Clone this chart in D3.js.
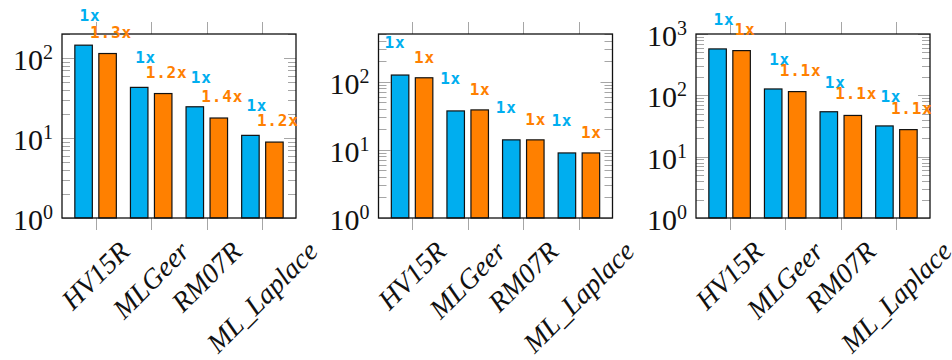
<!DOCTYPE html>
<html>
<head>
<meta charset="utf-8">
<script src="https://cdn.jsdelivr.net/npm/d3@7"></script>
<style>
  html, body { margin: 0; padding: 0; background: #fff; }
  svg { display: block; }
  .serif { font-family: "Liberation Serif", "DejaVu Serif", serif; }
  .mono { font-family: "DejaVu Sans Mono", "Liberation Mono", monospace; font-weight: bold; }
</style>
</head>
<body>
<svg id="chart" width="952" height="360"></svg>
<script>
// ---------------- data ----------------
const categories = ["HV15R", "MLGeer", "RM07R", "ML_Laplace"];

const panel1Blue   = [145, 43, 24.6, 10.8];
const panel1Orange = [114, 36, 17.8, 8.9];
const panel1BlueLabels   = ["1x", "1x", "1x", "1x"];
const panel1OrangeLabels = ["1.3x", "1.2x", "1.4x", "1.2x"];

const panel2Blue   = [125, 37.2, 14.0, 9.0];
const panel2Orange = [114, 38.5, 14.0, 9.0];
const panel2BlueLabels   = ["1x", "1x", "1x", "1x"];
const panel2OrangeLabels = ["1x", "1x", "1x", "1x"];

const panel3Blue   = [571, 127, 54, 31.7];
const panel3Orange = [536, 115, 47, 27.6];
const panel3BlueLabels   = ["1x", "1x", "1x", "1x"];
const panel3OrangeLabels = ["1x", "1.1x", "1.1x", "1.1x"];

const panel1YMax = 200;
const panel2YMax = 500;
const panel3YMax = 1000;

const panel1YTicks = [1, 10, 100];
const panel2YTicks = [1, 10, 100];
const panel3YTicks = [1, 10, 100, 1000];

// ---------------- layout / style ----------------
const BLUE = "#00aeef";
const ORANGE = "#ff8000";
const TICK = "#a6a6a6";

const panels = [
  { x0: 62,    blue: panel1Blue, orange: panel1Orange, bl: panel1BlueLabels, ol: panel1OrangeLabels, ymax: panel1YMax, yticks: panel1YTicks,
    bdx: 6, bdy: 24, odx: 3, ody: 16 },
  { x0: 378.5, blue: panel2Blue, orange: panel2Orange, bl: panel2BlueLabels, ol: panel2OrangeLabels, ymax: panel2YMax, yticks: panel2YTicks,
    bdx: -5.5, bdy: 27, odx: 0, ody: 15 },
  { x0: 696,   blue: panel3Blue, orange: panel3Orange, bl: panel3BlueLabels, ol: panel3OrangeLabels, ymax: panel3YMax, yticks: panel3YTicks,
    bdx: 6, bdy: 24, odx: 3, ody: 16 }
];

const W = 234, TOP = 34, BOTTOM = 218;
const BAR_W = 17.5, BAR_OFF = 12;

const svg = d3.select("#chart");

panels.forEach(p => {
  const g = svg.append("g");
  const x = d3.scalePoint().domain(categories).range([p.x0, p.x0 + W]).padding(0.604);
  const y = d3.scaleLog().domain([1, p.ymax]).range([BOTTOM, TOP]);

  // minor ticks
  const minor = [];
  for (let e = 0; Math.pow(10, e) <= p.ymax; e++) {
    for (let k = 2; k <= 9; k++) {
      const v = k * Math.pow(10, e);
      if (v <= p.ymax) minor.push(v);
    }
  }
  const tickG = g.append("g").attr("stroke", TICK).attr("stroke-width", 1);
  minor.forEach(v => {
    const yy = Math.round(y(v)) + 0.5;
    tickG.append("line").attr("x1", p.x0).attr("x2", p.x0 + 8).attr("y1", yy).attr("y2", yy);
    tickG.append("line").attr("x1", p.x0 + W - 8).attr("x2", p.x0 + W).attr("y1", yy).attr("y2", yy);
  });
  p.yticks.forEach(v => {
    const yy = Math.round(y(v)) + 0.5;
    tickG.append("line").attr("x1", p.x0).attr("x2", p.x0 + 12).attr("y1", yy).attr("y2", yy);
    tickG.append("line").attr("x1", p.x0 + W - 12).attr("x2", p.x0 + W).attr("y1", yy).attr("y2", yy);
  });
  // x ticks outside top and bottom
  categories.forEach(c => {
    const xx = Math.round(x(c)) + 0.5;
    tickG.append("line").attr("x1", xx).attr("x2", xx).attr("y1", BOTTOM).attr("y2", BOTTOM + 12);
    tickG.append("line").attr("x1", xx).attr("x2", xx).attr("y1", TOP - 12).attr("y2", TOP);
  });

  // bars
  const series = [
    { vals: p.blue, color: BLUE, off: -BAR_OFF },
    { vals: p.orange, color: ORANGE, off: BAR_OFF }
  ];
  series.forEach(s => {
    g.append("g").selectAll("rect").data(categories).join("rect")
      .attr("x", (c) => x(c) + s.off - BAR_W / 2)
      .attr("width", BAR_W)
      .attr("y", (c, i) => y(s.vals[i]))
      .attr("height", (c, i) => BOTTOM - y(s.vals[i]))
      .attr("fill", s.color)
      .attr("stroke", "#111")
      .attr("stroke-width", 1.2);
  });

  // frame
  g.append("rect").attr("x", p.x0).attr("y", TOP).attr("width", W).attr("height", BOTTOM - TOP)
    .attr("fill", "none").attr("stroke", "#111").attr("stroke-width", 1.3);

  // y tick labels
  p.yticks.forEach(v => {
    const t = g.append("text")
      .attr("class", "serif")
      .attr("x", p.x0 - 9)
      .attr("y", y(v) + 12)
      .attr("text-anchor", "end")
      .attr("font-size", 30)
      .attr("fill", "#111");
    t.append("tspan").text("10");
    t.append("tspan").attr("dy", -11).attr("font-size", 20).text(String(Math.round(Math.log10(v))));
  });

  // x tick labels (rotated 45, bbox top at fixed y, centred on tick)
  const FS = 28, capH = 0.66 * FS, LABEL_TOP = 240;
  categories.forEach(c => {
    const t = g.append("text")
      .attr("class", "serif")
      .attr("font-style", "italic")
      .attr("font-size", FS)
      .attr("fill", "#111")
      .attr("text-anchor", "middle")
      .attr("x", 0).attr("y", capH / 2)
      .text(c);
    const w = t.node().getComputedTextLength();
    const cy = LABEL_TOP + 0.7071 * (w + capH) / 2;
    t.attr("transform", `translate(${x(c)},${cy}) rotate(-45)`);
  });

  // value labels
  const labelSets = [
    { vals: p.blue, labels: p.bl, color: BLUE, off: -BAR_OFF, dx: p.bdx, dy: p.bdy },
    { vals: p.orange, labels: p.ol, color: ORANGE, off: BAR_OFF, dx: p.odx, dy: p.ody }
  ];
  labelSets.forEach(s => {
    g.append("g").selectAll("text").data(categories).join("text")
      .attr("class", "mono")
      .attr("x", (c) => x(c) + s.off + s.dx + 0.4)
      .attr("y", (c, i) => y(s.vals[i]) - s.dy)
      .attr("text-anchor", "middle")
      .attr("font-size", 16)
      .attr("letter-spacing", 0.8)
      .attr("fill", s.color)
      .text((c, i) => s.labels[i]);
  });
});
</script>
</body>
</html>
